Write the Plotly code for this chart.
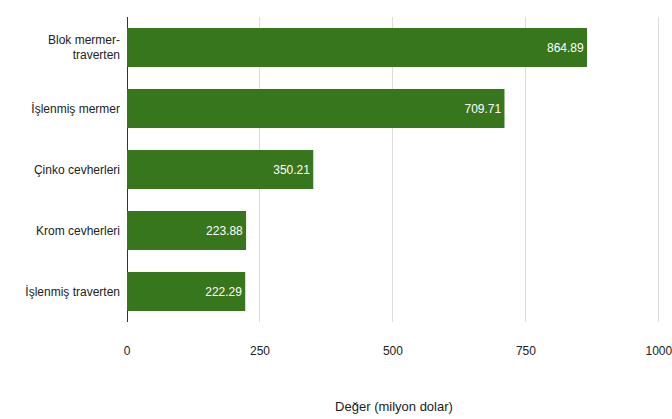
import plotly.graph_objects as go

categories = ["Blok mermer-<br>traverten", "İşlenmiş mermer", "Çinko cevherleri", "Krom cevherleri", "İşlenmiş traverten"]
values = [864.89, 709.71, 350.21, 223.88, 222.29]
tick_vals = [0, 250, 500, 750, 1000]

fig = go.Figure(go.Bar(
    x=values, y=categories, orientation="h",
    marker=dict(color="#38761d", line=dict(width=0)),
    text=[f"{v:.2f}" for v in values], textposition="inside",
    insidetextanchor="end", textfont=dict(color="#ffffff", size=12, family="Liberation Sans"),
    width=0.64,
))
fig.update_layout(
    width=672, height=419, margin=dict(l=127, r=11, t=17, b=97),
    plot_bgcolor="white", paper_bgcolor="white",
    font=dict(family="Liberation Sans, Arial", size=12, color="#222222"),
    showlegend=False,
    xaxis=dict(range=[0, 1004], tickvals=tick_vals, showgrid=True, gridcolor="#dddddd",
               zeroline=True, zerolinecolor="#333333", zerolinewidth=1,
               ticklabelstandoff=20, ticklabeloverflow="allow", automargin=False,
               title=dict(text="Değer (milyon dolar)", font=dict(size=13), standoff=44)),
    yaxis=dict(autorange="reversed", ticklabelstandoff=6, showgrid=False, automargin=False),
)
fig.write_html("out.html")
